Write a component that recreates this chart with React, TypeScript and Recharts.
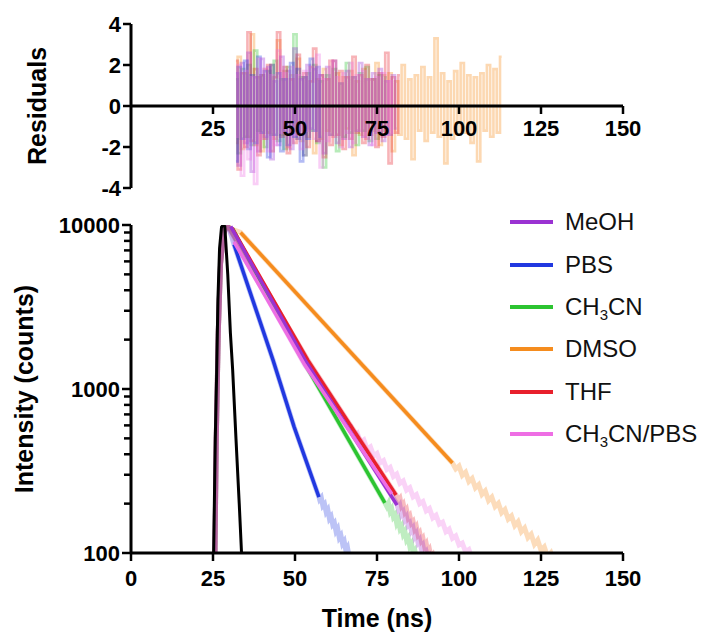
import { ComposedChart, Legend, Line, ReferenceLine, XAxis, YAxis } from 'recharts'

const FONT = '"Liberation Sans", Arial, Helvetica, sans-serif'

const COLORS: Record<string, string> = {
  MeOH: '#9a32d2',
  PBS: '#2138e0',
  CH3CN: '#2cc431',
  DMSO: '#f58c1e',
  THF: '#e8202c',
  'CH3CN/PBS': '#ee6ee4',
}
const legendOrder = ['MeOH', 'PBS', 'CH3CN', 'DMSO', 'THF', 'CH3CN/PBS']

// ---- residuals (one value per ns, from 32 ns) ----
const resStart = 32
const meohRes = [1.6, -2.9, 2.1, -1.8, 2.6, -3.2, 1.4, -2.2, 2.3, -1.5, 1.9, -2.6, 1.2, -1.9, 2.4, -1.3, 1.7, -2.1, 2.8, -1.6, 1.3, -2.4, 2.0, -1.1, 1.8, -1.7, 1.5, -2.3, 1.9, -1.4, 2.2, -1.8, 1.1, -1.6, 1.7, -2.0, 1.4, -1.2, 2.1, -1.5, 1.3, -1.9, 1.6, -1.3, 1.8, -1.7, 1.2, -1.4, 1.5, -1.1]
const pbsRes = [-2.7, 1.9, -1.6, 2.2, -2.1, 1.5, -1.8, 2.4, -1.3, 1.7, -2.5, 2.0, -1.4, 1.6, -2.2, 1.3, -1.9, 2.1, -1.5, 1.8, -2.7, 1.4, -1.6, 2.3, -1.2, 1.9, -1.5]
const mecnRes = [1.3, -2.3, 1.8, -1.5, 2.0, -1.9, 2.7, -1.2, 1.5, -2.0, 1.7, -1.4, 2.2, -1.7, 1.3, -2.1, 1.9, -1.3, 3.5, -1.6, 1.4, -2.4, 1.6, -1.2, 2.0, -1.8, 1.2, -3.0, 1.5, -1.4, 1.8, -2.2, 1.1, -1.5, 2.1, -1.3, 1.4, -1.9, 1.6, -1.2, 1.9, -1.7, 1.3, -1.6, 1.5, -1.2, 1.4]
const dmsoRes = [-1.8, 2.4, -2.1, 1.6, -1.5, 3.5, -1.9, 1.4, -2.2, 1.8, -1.3, 2.0, -1.6, 3.2, -1.4, 1.7, -2.0, 1.5, -1.2, 2.3, -1.7, 1.4, -1.5, 1.9, -2.3, 1.3, -1.6, 1.8, -1.2, 2.2, -1.5, 1.6, -1.9, 1.4, -1.1, 1.7, -2.4, 1.2, -1.4, 1.8, -1.6, 1.3, -1.2, 2.1, -1.9, 1.5, -1.3, 1.6, -2.2, 1.2, -1.4, 2.0, -1.6, 1.3, -2.6, 1.5, -1.2, 1.9, -1.7, 1.4, -1.3, 3.3, -1.5, 1.6, -2.8, 1.2, -1.6, 1.7, -1.4, 2.1, -1.3, 1.5, -1.8, 1.4, -2.7, 1.6, -1.2, 2.0, -1.5, 1.8, -1.3, 2.4]
const thfRes = [2.2, -3.1, 1.6, -2.0, 3.6, -1.7, 1.8, -2.4, 1.5, -1.6, 2.0, -2.2, 1.4, 3.6, -1.5, 1.9, -2.3, 1.3, -1.8, 2.5, -1.4, 1.6, -2.0, 1.2, 2.8, -1.7, 1.5, -2.5, 1.3, -1.9, 2.2, -1.4, 1.7, -2.1, 1.4, -1.6, 2.4, -1.3, 1.5, -1.8, 2.0, -1.4, 1.3, -2.0, 1.6, -1.5, 2.6, -2.8, 1.4, -1.3, 1.5]
const mixRes = [-1.5, 2.0, -3.4, 1.7, -2.6, 1.4, -3.8, 2.3, -1.6, 1.8, -2.2, 1.5, -1.9, 2.7, -1.3, 1.6, -2.0, 1.9, -1.4, 1.5, -2.1, 1.7, -1.2, 1.9, -1.6, 2.5, -3.0, 1.3, -1.7, 2.2, -1.5, 1.4, -2.0, 1.6, -1.3, 2.1, -1.8, 1.5, -1.2, 1.7, -1.6, 1.3, -1.9, 1.4, -1.2, 1.6, -1.4, 1.2, -1.3]

// ---- decays: [time ns, counts] ----
const irf = [[25.2, 100], [25.7, 500], [26.1, 1200], [26.5, 3500], [27.0, 7200], [27.6, 9700], [28.1, 10000], [28.6, 9800], [29.5, 5000], [30.3, 2200], [31.0, 1300], [32.0, 500], [33.0, 200], [33.7, 100]]

const meohFit = [[30.4, 9800], [53.5, 1450], [81.1, 196]]
const pbsFit = [[31.4, 7600], [43.3, 1500], [49.7, 590], [57.3, 219]]
const mecnFit = [[31.0, 9500], [52.4, 1500], [77.4, 202]]
const dmsoFit = [[33.4, 9000], [98.0, 354]]
const thfFit = [[30.8, 9600], [53.9, 1500], [80.8, 226]]
const mixFit = [[31.4, 7900], [53.0, 1400], [79.5, 230]]

// raw counts: rise + body, then noisy tail sampled at a fixed step
const meohRaw = [[25.6, 100], [26.0, 500], [26.6, 2200], [27.3, 5800], [28.2, 8800], [29.2, 10000], [30.2, 9400], [53.5, 1450], [81.0, 200]]
const meohTail = [186, 194, 172, 178, 160, 166, 148, 152, 137, 142, 126, 131, 116, 120, 107, 111, 99, 102, 93, 96, 88, 91]
const pbsRaw = [[25.6, 100], [26.0, 500], [26.6, 2200], [27.3, 5800], [28.2, 8800], [29.2, 10000], [30.2, 9200], [31.4, 7600], [43.3, 1500], [49.7, 590], [57.3, 219]]
const pbsTail = [212, 218, 194, 199, 178, 184, 162, 167, 149, 153, 136, 141, 124, 128, 114, 118, 104, 108, 95, 99]
const mecnRaw = [[25.6, 100], [26.0, 500], [26.6, 2200], [27.3, 5800], [28.2, 8800], [29.2, 10000], [30.2, 9400], [52.4, 1500], [77.4, 202]]
const mecnTail = [192, 201, 179, 186, 166, 171, 152, 159, 141, 146, 130, 135, 120, 124, 110, 114, 101, 104, 93, 96]
const dmsoRaw = [[25.6, 100], [26.0, 500], [26.6, 2200], [27.3, 5800], [28.2, 8800], [29.2, 10000], [30.2, 9500], [33.4, 9000], [98.0, 354]]
const dmsoTail = [326, 339, 298, 311, 273, 285, 250, 261, 228, 239, 209, 219, 192, 201, 176, 184, 161, 168, 147, 155, 135, 142, 124, 130, 113, 120, 104, 109, 95, 100, 87]
const thfRaw = [[25.6, 100], [26.0, 500], [26.6, 2200], [27.3, 5800], [28.2, 8800], [29.2, 10000], [30.2, 9500], [53.9, 1500], [80.8, 226]]
const thfTail = [210, 216, 193, 199, 178, 184, 164, 169, 152, 156, 140, 145, 129, 133, 119, 123, 110, 114, 101, 105, 94, 97, 88, 90]
const mixRaw = [[25.6, 100], [26.0, 500], [26.6, 2200], [27.3, 5800], [28.2, 8800], [29.2, 10000], [30.2, 9000], [53.0, 1400], [66.0, 610]]
const mixTail = [593, 521, 538, 473, 489, 430, 444, 391, 404, 355, 366, 323, 333, 293, 303, 266, 275, 242, 250, 220, 227, 200, 206, 181, 187, 164, 170, 150, 154, 135, 140, 123, 127, 112, 115, 102, 105, 92]

const xTicks = [0, 25, 50, 75, 100, 125, 150]
const resXTicks = [25, 50, 75, 100, 125, 150]
const resYTicks = [-4, -2, 0, 2, 4]
const logTicks = [100, 200, 300, 400, 500, 600, 700, 800, 900, 1000, 2000, 3000, 4000, 5000, 6000, 7000, 8000, 9000, 10000]
const majorTicks = [100, 1000, 10000]

const toRes = (vals: number[]) => vals.map((r, i) => ({ t: resStart + i, r }))
const pts = (arr: number[][]) => arr.map(([t, v]) => ({ t, v }))
const tail = (start: number, step: number, vals: number[]) => vals.map((v, i) => ({ t: start + i * step, v }))

const RES_PLOT_H = 164
const TICK_OFF = 8 // default tickSize 6 + tickMargin 2

const tickText = { fontFamily: FONT, fontSize: 22, fontWeight: 700, fill: '#000' }

const ResXTick = ({ x, y, payload }: any) => {
  const y0 = y - RES_PLOT_H / 2
  return (
    <g>
      <line x1={x} x2={x} y1={y0} y2={y0 + 8} stroke="#000" strokeWidth={2.5} />
      <text x={x} y={y0 + 30} textAnchor="middle" {...tickText}>{payload.value}</text>
    </g>
  )
}

const XTick = ({ x, y, payload }: any) => (
  <g>
    <line x1={x} x2={x} y1={y} y2={y + 8} stroke="#000" strokeWidth={2.5} />
    <text x={x} y={y + 33} textAnchor="middle" {...tickText}>{payload.value}</text>
  </g>
)

const ResYTick = ({ x, y, payload }: any) => (
  <g>
    <line x1={x - 8} x2={x} y1={y} y2={y} stroke="#000" strokeWidth={2.5} />
    <text x={x - 10} y={y + 8} textAnchor="end" {...tickText}>{payload.value}</text>
  </g>
)

const LogTick = ({ x, y, payload }: any) => {
  const ax = x + TICK_OFF
  const major = majorTicks.includes(Number(payload.value))
  return (
    <g>
      <line x1={ax - (major ? 9 : 7)} x2={ax} y1={y} y2={y} stroke="#000" strokeWidth={2.5} />
      {major ? (
        <text x={ax - 11} y={y + 8} textAnchor="end" {...tickText}>{payload.value}</text>
      ) : null}
    </g>
  )
}

const withSub = (name: string) => {
  const [a, b] = name.split('3')
  if (b === undefined) return name
  return (
    <>
      {a}
      <sub style={{ fontSize: 15, verticalAlign: '-5px', lineHeight: 0 }}>3</sub>
      {b}
    </>
  )
}

const renderLegend = () => (
  <div style={{ fontFamily: FONT, fontSize: 24, color: '#111' }}>
    {legendOrder.map((name) => (
      <div key={name} style={{ display: 'flex', alignItems: 'center', height: 42.4 }}>
        <div style={{ width: 43, height: 4, background: COLORS[name], marginRight: 12 }} />
        <span>{withSub(name)}</span>
      </div>
    ))}
  </div>
)

const titleStyle = { fontFamily: FONT, fontSize: 25, fontWeight: 700, fill: '#000' }

export default function App() {
  const resSeries = [
    { key: 'DMSO', data: toRes(dmsoRes) },
    { key: 'CH3CN', data: toRes(mecnRes) },
    { key: 'THF', data: toRes(thfRes) },
    { key: 'MeOH', data: toRes(meohRes) },
    { key: 'PBS', data: toRes(pbsRes) },
    { key: 'CH3CN/PBS', data: toRes(mixRes) },
  ]
  const rawSeries = [
    { key: 'DMSO', data: pts(dmsoRaw).concat(tail(99, 1, dmsoTail)) },
    { key: 'PBS', data: pts(pbsRaw).concat(tail(57.5, 0.5, pbsTail)) },
    { key: 'CH3CN', data: pts(mecnRaw).concat(tail(78, 0.5, mecnTail)) },
    { key: 'CH3CN/PBS', data: pts(mixRaw).concat(tail(67, 1, mixTail)) },
    { key: 'THF', data: pts(thfRaw).concat(tail(81.5, 0.5, thfTail)) },
    { key: 'MeOH', data: pts(meohRaw).concat(tail(81.5, 0.5, meohTail)) },
  ]
  const fitSeries = [
    { key: 'DMSO', data: pts(dmsoFit) },
    { key: 'PBS', data: pts(pbsFit) },
    { key: 'CH3CN', data: pts(mecnFit) },
    { key: 'THF', data: pts(thfFit) },
    { key: 'MeOH', data: pts(meohFit) },
    { key: 'CH3CN/PBS', data: pts(mixFit) },
  ]

  return (
    <div style={{ position: 'absolute', left: 0, top: 0, width: 706, height: 638, background: '#fff' }}>
      <div style={{ position: 'absolute', left: 0, top: 0 }}>
        <ComposedChart width={706} height={200} margin={{ top: 24, right: 83, bottom: 11, left: 21 }}>
          <XAxis
            type="number"
            dataKey="t"
            domain={[0, 150]}
            ticks={resXTicks}
            interval={0}
            allowDataOverflow
            axisLine={false}
            tickLine={false}
            tickSize={0}
            tickMargin={0}
            height={1}
            tick={<ResXTick />}
          />
          <YAxis
            type="number"
            domain={[-4, 4]}
            ticks={resYTicks}
            interval={0}
            width={110}
            axisLine={{ stroke: '#000', strokeWidth: 3 }}
            tickLine={false}
            tickSize={0}
            tickMargin={0}
            tick={<ResYTick />}
            label={{ value: 'Residuals', angle: -90, position: 'insideLeft', offset: 16, style: { ...titleStyle, textAnchor: 'middle' } }}
          />
          {resSeries.map((s) => (
            <Line
              key={s.key}
              type="step"
              data={s.data}
              dataKey="r"
              stroke={COLORS[s.key]}
              strokeOpacity={0.34}
              strokeWidth={2.6}
              dot={false}
              legendType="none"
              isAnimationActive={false}
            />
          ))}
          <ReferenceLine y={0} stroke="#000" strokeWidth={3} />
        </ComposedChart>
      </div>
      <div style={{ position: 'absolute', left: 0, top: 200 }}>
        <ComposedChart width={706} height={438} margin={{ top: 25, right: 83, bottom: 11, left: 21 }}>
          <XAxis
            type="number"
            dataKey="t"
            domain={[0, 150]}
            ticks={xTicks}
            interval={0}
            allowDataOverflow
            axisLine={{ stroke: '#000', strokeWidth: 3 }}
            tickLine={false}
            tickSize={0}
            tickMargin={0}
            height={74}
            tick={<XTick />}
            label={{ value: 'Time (ns)', position: 'insideBottom', offset: 0, style: titleStyle }}
          />
          <YAxis
            type="number"
            dataKey="v"
            scale="log"
            domain={[100, 10000]}
            ticks={logTicks}
            interval={0}
            allowDataOverflow
            width={110}
            axisLine={{ stroke: '#000', strokeWidth: 3 }}
            tickLine={false}
            tick={<LogTick />}
            label={{ value: 'Intensity (counts)', angle: -90, position: 'insideLeft', offset: 3, style: { ...titleStyle, textAnchor: 'middle' } }}
          />
          {rawSeries.map((s) => (
            <Line
              key={'raw-' + s.key}
              data={s.data}
              dataKey="v"
              stroke={COLORS[s.key]}
              strokeOpacity={0.3}
              strokeWidth={5}
              dot={false}
              legendType="none"
              isAnimationActive={false}
            />
          ))}
          <Line
            data={pts(irf)}
            dataKey="v"
            stroke="#000"
            strokeWidth={3}
            dot={false}
            legendType="none"
            isAnimationActive={false}
          />
          {fitSeries.map((s) => (
            <Line
              key={'fit-' + s.key}
              name={s.key}
              data={s.data}
              dataKey="v"
              stroke={COLORS[s.key]}
              strokeWidth={3.5}
              dot={false}
              isAnimationActive={false}
            />
          ))}
          <Legend
            layout="horizontal"
            verticalAlign="middle"
            align="center"
            content={renderLegend}
            wrapperStyle={{ left: 510, top: 1, width: 196 }}
          />
        </ComposedChart>
      </div>
    </div>
  )
}
